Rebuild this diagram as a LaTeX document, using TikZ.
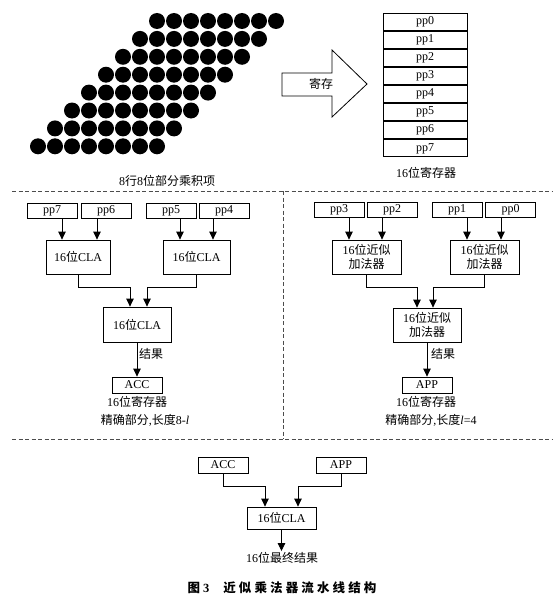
\documentclass[tikz,border=0pt]{standalone}
\usepackage{fontspec}
\setmainfont{Liberation Serif}
\newfontfamily\cjk{Noto Sans CJK SC}
\newfontfamily\cjkcap[LetterSpace=25]{Noto Sans CJK SC}
\newcommand{\zh}[1]{{\cjk #1}}
\usetikzlibrary{arrows.meta,positioning}

\begin{document}
\begin{tikzpicture}[x=1pt, y=-1pt, line width=0.8pt, font=\fontsize{12}{14}\selectfont,
        pbox/.style = {draw, inner sep=0pt, minimum width=50pt, minimum height=15pt},
        cell/.style = {draw, inner sep=0pt, minimum width=84pt, minimum height=17pt},
        unit/.style = {draw, inner sep=0pt, align=center, minimum width=68pt, minimum height=34pt, font=\fontsize{12}{14.5}\selectfont},
        txt/.style = {inner sep=1pt},
        arr/.style = {-{Triangle[length=8pt,width=7.5pt]}},
        sep/.style = {draw=black!70, dash pattern=on 4pt off 2.5pt}]
    \useasboundingbox (0,0) rectangle (559,602);

    % partial products
    \foreach \r in {0,...,7}
        \foreach \c in {0,...,7}
            \fill (157-17*\r+17*\c, 21+17.9*\r) circle[radius=8pt];
    \node[txt] (dotcap) at (167,181) {8\zh{行}8\zh{位部分乘积项}};

    % store arrow
    \draw (282,73) -- (332,73) -- (332,50) -- (367,84) -- (332,117) -- (332,96) -- (282,96) -- cycle;
    \node[txt] (store) at (321,84) {\zh{寄存}};

    % register
    \foreach \i in {0,...,7}
        \node[cell] (r\i) at (425, 22+18.05*\i) {pp\i};
    \node[txt] (regcap) at (426,173) {16\zh{位寄存器}};

    % separators
    \draw[sep] (12,191) -- (552,191);
    \draw[sep] (12,439) -- (552,439);
    \draw[sep] (283,191) -- (283,439);

    % exact part
    \node[pbox] (pp7) at (52,210.5) {pp7};
    \node[pbox] (pp6) at (106,210.5) {pp6};
    \node[pbox] (pp5) at (171,210.5) {pp5};
    \node[pbox] (pp4) at (224,210.5) {pp4};
    \node[unit, minimum width=64pt] (cla1) at (78,257) {16\zh{位}CLA};
    \node[unit, minimum width=67pt] (cla2) at (196.5,257) {16\zh{位}CLA};
    \node[unit, minimum height=35pt] (cla3) at (137,324.5) {16\zh{位}CLA};
    \node[pbox, minimum height=16pt] (acc) at (137,385) {ACC};
    \node[txt] (res1) at (151,354) {\zh{结果}};
    \node[txt] (acccap) at (137,402) {16\zh{位寄存器}};
    \node[txt] (exactcap) at (145,420) {\zh{精确部分},\zh{长度}8-\textit{l}};

    \coordinate (cla1-a) at ([xshift=-16pt]cla1.north);
    \coordinate (cla1-b) at ([xshift=19pt]cla1.north);
    \coordinate (cla2-a) at ([xshift=-16.5pt]cla2.north);
    \coordinate (cla2-b) at ([xshift=16.5pt]cla2.north);
    \coordinate (cla3-a) at ([xshift=-7pt]cla3.north);
    \coordinate (cla3-b) at ([xshift=10pt]cla3.north);
    \draw[arr] (pp7.south -| cla1-a) -- (cla1-a);
    \draw[arr] (pp6.south -| cla1-b) -- (cla1-b);
    \draw[arr] (pp5.south -| cla2-a) -- (cla2-a);
    \draw[arr] (pp4.south -| cla2-b) -- (cla2-b);
    \draw[arr] (cla1.south) -- ++(0,13) -| (cla3-a);
    \draw[arr] (cla2.south) -- ++(0,13) -| (cla3-b);
    \draw[arr] (cla3.south) -- (acc.north);

    % approximate part
    \node[pbox] (pp3) at (339,210) {pp3};
    \node[pbox] (pp2) at (392,210) {pp2};
    \node[pbox] (pp1) at (457,210) {pp1};
    \node[pbox] (pp0) at (510.5,210) {pp0};
    \node[unit, minimum width=69pt] (add1) at (366.5,257) {16\zh{位近似}\\\zh{加法器}};
    \node[unit, minimum width=69pt] (add2) at (484.5,257) {16\zh{位近似}\\\zh{加法器}};
    \node[unit] (add3) at (427,325) {16\zh{位近似}\\\zh{加法器}};
    \node[pbox, minimum height=16pt] (app) at (427,385) {APP};
    \node[txt] (res2) at (443,354) {\zh{结果}};
    \node[txt] (appcap) at (426,402) {16\zh{位寄存器}};
    \node[txt] (approxcap) at (431,420) {\zh{精确部分},\zh{长度}\textit{l}=4};

    \coordinate (add1-a) at ([xshift=-17.5pt]add1.north);
    \coordinate (add1-b) at ([xshift=15.5pt]add1.north);
    \coordinate (add2-a) at ([xshift=-17.5pt]add2.north);
    \coordinate (add2-b) at ([xshift=16.5pt]add2.north);
    \coordinate (add3-a) at ([xshift=-10pt]add3.north);
    \coordinate (add3-b) at ([xshift=6pt]add3.north);
    \draw[arr] (pp3.south -| add1-a) -- (add1-a);
    \draw[arr] (pp2.south -| add1-b) -- (add1-b);
    \draw[arr] (pp1.south -| add2-a) -- (add2-a);
    \draw[arr] (pp0.south -| add2-b) -- (add2-b);
    \draw[arr] (add1.south) -- ++(0,13) -| (add3-a);
    \draw[arr] (add2.south) -- ++(0,13) -| (add3-b);
    \draw[arr] (add3.south) -- (app.north);

    % final stage
    \node[pbox, minimum height=16pt] (acc2) at (223,465) {ACC};
    \node[pbox, minimum height=16pt] (app2) at (341,465) {APP};
    \node[unit, minimum width=69pt, minimum height=22pt] (cla4) at (281.5,518) {16\zh{位}CLA};
    \node[txt] (final) at (282,558) {16\zh{位最终结果}};
    \coordinate (cla4-a) at ([xshift=-16.5pt]cla4.north);
    \coordinate (cla4-b) at ([xshift=16.5pt]cla4.north);
    \draw[arr] (acc2.south) -- ++(0,13) -| (cla4-a);
    \draw[arr] (app2.south) -- ++(0,13) -| (cla4-b);
    \draw[arr] (cla4.south) -- (final.north -| cla4.south);

    \node[txt, font=\fontsize{12.5}{14}\selectfont] (caption) at (282,588) {{\cjkcap\bfseries 图}\hspace{3pt}{\bfseries 3}\hspace{14pt}{\cjkcap\bfseries 近似乘法器流水线结构}};
\end{tikzpicture}
\end{document}
